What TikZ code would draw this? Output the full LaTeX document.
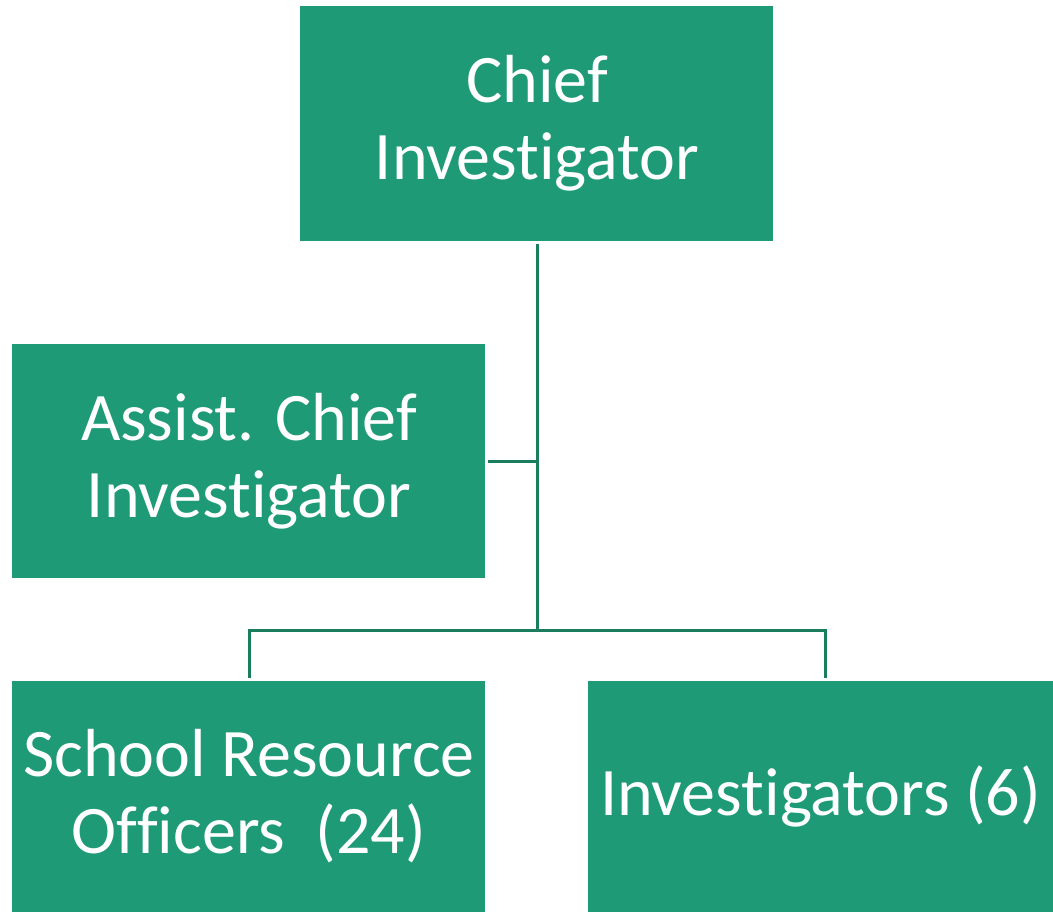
\documentclass[tikz,border=0pt]{standalone}
\usepackage{fontspec}
\setmainfont{Carlito}[Ligatures={NoCommon,NoRare,NoDiscretionary}]
\definecolor{boxgreen}{HTML}{1F9A77}
\definecolor{linegreen}{HTML}{1A7D5E}
\begin{document}
\begin{tikzpicture}[x=1pt,y=-1pt,
  orgbox/.style={fill=boxgreen,draw=none,text=white,align=center,inner sep=0pt,
    font=\fontsize{68}{77}\selectfont},
  conn/.style={draw=linegreen,line width=3pt}]
\useasboundingbox (0,0) rectangle (1053,912);
\fill[boxgreen] (300,6) rectangle (773,241);
\node[orgbox] (chief) at (537,123.5) {Chief\\Investigator};
\fill[boxgreen] (12,344) rectangle (485,578);
\node[orgbox] (assist) at (249,461) {Assist. Chief\\Investigator};
\fill[boxgreen] (12,681) rectangle (485,912);
\node[orgbox] (sro) at (249,796) {School Resource\\Officers\ \ (24)};
\fill[boxgreen] (588,681) rectangle (1053,912);
\node[orgbox] (inv) at (820.5,796) {Investigators (6)};
\coordinate (top) at (537,244);
\coordinate (mid) at (537,461);
\coordinate (assistend) at (488,461);
\coordinate (bar) at (537,630);
\coordinate (barl) at (249,630);
\coordinate (barr) at (825,630);
\coordinate (sroend) at (249,678);
\coordinate (invend) at (825,678);
\draw[conn] (top) -- (bar);
\draw[conn] (mid) -- (assistend);
\draw[conn] (sroend) -- (barl) -- (barr) -- (invend);
\end{tikzpicture}
\end{document}
